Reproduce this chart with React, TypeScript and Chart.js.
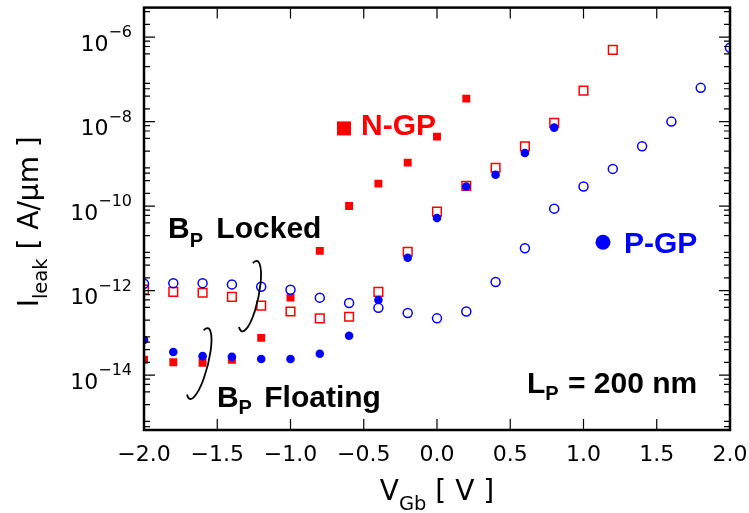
import React, { useEffect, useRef } from 'react';
import Chart from 'chart.js/auto';

// ---- data (Ileak in A/µm versus VGb in V) ----
const vgb = [-2.0, -1.8, -1.6, -1.4, -1.2, -1.0, -0.8, -0.6, -0.4, -0.2, 0.0, 0.2, 0.4, 0.6, 0.8, 1.0, 1.2, 1.4, 1.6, 1.8, 2.0];

// N-GP, body floating (filled red squares)
const nGpFloating = [2.3e-14, 2.0e-14, 1.95e-14, 2.3e-14, 7.6e-14, 6.8e-13, 8.7e-12, 1.0e-10, 3.4e-10, 1.07e-9, 4.4e-9, 3.5e-8];
// N-GP, body locked (open red squares)
const nGpLocked = [1.05e-12, 9.3e-13, 8.9e-13, 7.1e-13, 4.4e-13, 3.2e-13, 2.2e-13, 2.4e-13, 9.3e-13, 8.3e-12, 7.4e-11, 3.0e-10, 8.1e-10, 2.6e-9, 9.3e-9, 5.4e-8, 5.0e-7];
// P-GP, body floating (filled blue circles)
const pGpFloating = [6.8e-14, 3.5e-14, 2.8e-14, 2.7e-14, 2.4e-14, 2.4e-14, 3.2e-14, 8.5e-14, 6.0e-13, 6.0e-12, 5.2e-11, 2.9e-10, 5.5e-10, 1.8e-9, 7.2e-9];
// P-GP, body locked (open blue circles)
const pGpLocked = [1.45e-12, 1.5e-12, 1.5e-12, 1.4e-12, 1.23e-12, 1.05e-12, 6.8e-13, 5.1e-13, 3.9e-13, 2.95e-13, 2.2e-13, 3.2e-13, 1.6e-12, 1.0e-11, 8.7e-11, 2.9e-10, 7.6e-10, 2.6e-9, 1.0e-8, 6.3e-8, 5.6e-7];

// ---- axes ----
const xMin = -2.0;
const xMax = 2.0;
const yMin = 5e-16;
const yMax = 5e-6;
const xTickValues = [-2.0, -1.5, -1.0, -0.5, 0.0, 0.5, 1.0, 1.5, 2.0];
const xTickLabels = ['\u22122.0', '\u22121.5', '\u22121.0', '\u22120.5', '0.0', '0.5', '1.0', '1.5', '2.0'];
const yLabelExponents = [-14, -12, -10, -8, -6];
const yDecades = [-16, -15, -14, -13, -12, -11, -10, -9, -8, -7, -6, -5];
const yMinorMantissas = [2, 4, 6, 8];

const RED = '#ff0000';
const BLUE = '#0000ff';
const SANS = '"DejaVu Sans", sans-serif';
const BOLD = (s: number) => `bold ${s}px "Liberation Sans", Arial, sans-serif`;

const toPoints = (vals: number[]) => vals.map((v, i) => ({ x: vgb[i], y: v }));

type Run = { text: string; font: string; dy?: number; gap?: number };

function drawRuns(ctx: CanvasRenderingContext2D, x: number, y: number, runs: Run[], color: string) {
  let cx = x;
  ctx.fillStyle = color;
  ctx.textAlign = 'left';
  ctx.textBaseline = 'alphabetic';
  for (const r of runs) {
    cx += r.gap || 0;
    ctx.font = r.font;
    ctx.fillText(r.text, cx, y + (r.dy || 0));
    cx += ctx.measureText(r.text).width;
  }
}

function runsWidth(ctx: CanvasRenderingContext2D, runs: Run[]) {
  let w = 0;
  for (const r of runs) {
    ctx.font = r.font;
    w += (r.gap || 0) + ctx.measureText(r.text).width;
  }
  return w;
}

const decorPlugin = {
  id: 'decor',
  afterDraw(chart: any) {
    const ctx: CanvasRenderingContext2D = chart.ctx;
    const xs = chart.scales.x;
    const ys = chart.scales.y;
    const { left, right, top, bottom } = chart.chartArea;
    const MAJ = 11;
    const MIN = 6;
    ctx.save();

    // ticks (inward, all four sides)
    ctx.strokeStyle = '#000';
    ctx.lineWidth = 1.2;
    ctx.beginPath();
    for (const v of xTickValues) {
      const px = xs.getPixelForValue(v);
      ctx.moveTo(px, bottom);
      ctx.lineTo(px, bottom - MAJ);
      ctx.moveTo(px, top);
      ctx.lineTo(px, top + MAJ);
    }
    for (const e of yDecades) {
      const major = Math.pow(10, e);
      if (e % 2 === 0 && major >= yMin && major <= yMax) {
        const py = ys.getPixelForValue(major);
        ctx.moveTo(left, py);
        ctx.lineTo(left + MAJ, py);
        ctx.moveTo(right, py);
        ctx.lineTo(right - MAJ, py);
      }
      for (const m of yMinorMantissas) {
        const v = m * Math.pow(10, e);
        if (v < yMin || v > yMax) continue;
        const py = ys.getPixelForValue(v);
        ctx.moveTo(left, py);
        ctx.lineTo(left + MIN, py);
        ctx.moveTo(right, py);
        ctx.lineTo(right - MIN, py);
      }
    }
    ctx.stroke();

    // frame
    ctx.lineWidth = 2.5;
    ctx.strokeRect(left, top, right - left, bottom - top);

    // x tick labels
    ctx.fillStyle = '#000';
    ctx.font = `22px ${SANS}`;
    ctx.textAlign = 'center';
    ctx.textBaseline = 'alphabetic';
    xTickValues.forEach((v, i) => {
      ctx.fillText(xTickLabels[i], xs.getPixelForValue(v), bottom + 31);
    });

    // y tick labels 10^n
    for (const e of yLabelExponents) {
      const py = ys.getPixelForValue(Math.pow(10, e));
      const runs: Run[] = [
        { text: '10', font: `22px ${SANS}`, dy: 13.5 },
        { text: '\u2212' + Math.abs(e), font: `16px ${SANS}`, dy: 0 },
      ];
      const w = runsWidth(ctx, runs);
      drawRuns(ctx, left - 12 - w, py, runs, '#000');
    }

    // x axis title V_Gb [ V ]
    {
      const runs: Run[] = [
        { text: 'V', font: `28px ${SANS}` },
        { text: 'Gb', font: `19.5px ${SANS}`, dy: 10 },
        { text: ' [ V ]', font: `28px ${SANS}` },
      ];
      const w = runsWidth(ctx, runs);
      const cx = (left + right) / 2;
      drawRuns(ctx, cx - w / 2, 500, runs, '#000');
    }

    // y axis title I_leak [ A/µm ]
    {
      const runs: Run[] = [
        { text: 'I', font: `28px ${SANS}` },
        { text: 'leak', font: `19.5px ${SANS}`, dy: 9 },
        { text: ' [ A/\u03bcm ]', font: `28px ${SANS}` },
      ];
      const w = runsWidth(ctx, runs);
      ctx.save();
      ctx.translate(38, (top + bottom) / 2 + 3);
      ctx.rotate(-Math.PI / 2);
      drawRuns(ctx, -w / 2, 0, runs, '#000');
      ctx.restore();
    }

    // annotations
    const P = (x: number, y: number) => [xs.getPixelForValue(x), ys.getPixelForValue(y)];

    // N-GP legend
    {
      const [mx, my] = P(-0.635, 6.9e-9);
      ctx.fillStyle = RED;
      ctx.fillRect(mx - 7, my - 7, 14, 14);
      drawRuns(ctx, mx + 17, my + 7, [{ text: 'N-GP', font: BOLD(30) }], RED);
    }
    // P-GP legend
    {
      const [mx, my] = P(1.133, 1.39e-11);
      ctx.fillStyle = BLUE;
      ctx.beginPath();
      ctx.arc(mx, my, 7.5, 0, Math.PI * 2);
      ctx.fill();
      drawRuns(ctx, mx + 21, my + 11, [{ text: 'P-GP', font: BOLD(30) }], BLUE);
    }
    // B_P Locked
    {
      const [x, y] = P(-1.836, 1.73e-11);
      drawRuns(ctx, x, y, [
        { text: 'B', font: BOLD(30) },
        { text: 'P', font: BOLD(20), dy: 9 },
        { text: ' Locked', font: BOLD(30), gap: 5 },
      ], '#000');
    }
    // B_P Floating
    {
      const [x, y] = P(-1.502, 1.75e-15);
      drawRuns(ctx, x, y, [
        { text: 'B', font: BOLD(30) },
        { text: 'P', font: BOLD(20), dy: 7 },
        { text: ' Floating', font: BOLD(30), gap: 4 },
      ], '#000');
    }
    // L_P = 200 nm
    {
      const [x, y] = P(0.614, 3.76e-15);
      drawRuns(ctx, x, y, [
        { text: 'L', font: BOLD(30) },
        { text: 'P', font: BOLD(20), dy: 7 },
        { text: ' = 200 nm', font: BOLD(30), gap: 1 },
      ], '#000');
    }
    // ellipses grouping the data
    ctx.strokeStyle = '#000';
    ctx.lineWidth = 1.8;
    {
      const [cx, cy] = P(-1.28, 7.4e-13);
      ctx.beginPath();
      ctx.ellipse(cx, cy, 9, 36, 0.21, 4.3, 8.3);
      ctx.stroke();
    }
    {
      const [cx, cy] = P(-1.625, 1.87e-14);
      ctx.beginPath();
      ctx.ellipse(cx, cy, 9, 36.5, 0.25, 4.3, 8.3);
      ctx.stroke();
    }
    ctx.restore();
  },
};

export default function App() {
  const ref = useRef<HTMLCanvasElement>(null);
  useEffect(() => {
    if (!ref.current) return;
    const chart = new Chart(ref.current, {
      type: 'scatter',
      data: {
        datasets: [
          {
            label: 'P-GP floating',
            data: toPoints(pGpFloating),
            order: 0,
            pointStyle: 'circle',
            pointRadius: 4.3,
            pointBorderWidth: 0,
            pointBackgroundColor: BLUE,
            pointBorderColor: BLUE,
            clip: 0,
          },
          {
            label: 'P-GP locked',
            data: toPoints(pGpLocked),
            order: 1,
            pointStyle: 'circle',
            pointRadius: 4.5,
            pointBorderWidth: 1.5,
            pointBackgroundColor: 'rgba(0,0,0,0)',
            pointBorderColor: BLUE,
            clip: 0,
          },
          {
            label: 'N-GP floating',
            data: toPoints(nGpFloating),
            order: 2,
            pointStyle: 'rect',
            pointRadius: 5.6,
            pointBorderWidth: 0,
            pointBackgroundColor: RED,
            pointBorderColor: RED,
            clip: 0,
          },
          {
            label: 'N-GP locked',
            data: toPoints(nGpLocked),
            order: 3,
            pointStyle: 'rect',
            pointRadius: 6.1,
            pointBorderWidth: 1.5,
            pointBackgroundColor: 'rgba(0,0,0,0)',
            pointBorderColor: RED,
            clip: 0,
          },
        ],
      },
      options: {
        animation: false,
        responsive: false,
        devicePixelRatio: 1,
        layout: { padding: { left: 144, right: 19, top: 7, bottom: 83 } },
        plugins: { legend: { display: false }, tooltip: { enabled: false } },
        scales: {
          x: { type: 'linear', min: xMin, max: xMax, display: false },
          y: { type: 'logarithmic', min: yMin, max: yMax, display: false },
        },
      },
      plugins: [decorPlugin],
    } as any);
    return () => chart.destroy();
  }, []);
  return (
    <div style={{ position: 'absolute', left: 0, top: 0, width: 749, height: 513, background: '#fff' }}>
      <canvas ref={ref} width={749} height={513} style={{ display: 'block' }} />
    </div>
  );
}
